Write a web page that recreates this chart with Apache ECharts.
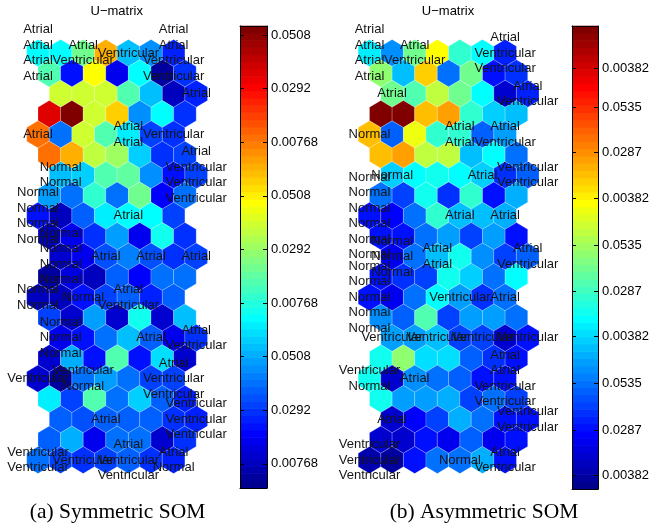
<!DOCTYPE html>
<html><head><meta charset="utf-8">
<script src="https://cdn.jsdelivr.net/npm/echarts@6/dist/echarts.min.js"></script>
<style>html,body{margin:0;padding:0;background:#fff}#c{width:652px;height:531px}</style>
</head><body><div id="c"></div>
<script>
// U-matrix values (colormap fraction 0..1), 21 rows x 7 columns
const symUmat = [
  [0.37,0.36,0.48,0.70,0.30,0.25,0.14],
  [0.45,0.12,0.62,0.10,0.36,0.01,0.16],
  [0.57,0.57,0.57,0.44,0.30,0.04,0.14],
  [0.90,1.00,0.57,0.67,0.25,0.36,0.16],
  [0.76,0.22,0.57,0.44,0.35,0.18,0.16],
  [0.76,0.70,0.55,0.53,0.31,0.16,0.18],
  [0.30,0.31,0.45,0.46,0.25,0.13,0.18],
  [0.27,0.23,0.42,0.23,0.48,0.11,0.22],
  [0.12,0.04,0.20,0.35,0.36,0.37,0.18],
  [0.04,0.09,0.16,0.27,0.10,0.38,0.16],
  [0.06,0.10,0.19,0.24,0.19,0.16,0.18],
  [0.02,0.08,0.04,0.20,0.11,0.22,0.22],
  [0.04,0.04,0.12,0.18,0.20,0.14,0.20],
  [0.18,0.06,0.27,0.06,0.38,0.07,0.30],
  [0.10,0.13,0.22,0.30,0.20,0.10,0.16],
  [0.06,0.28,0.12,0.45,0.12,0.34,0.07],
  [0.06,0.02,0.22,0.27,0.22,0.18,0.18],
  [0.35,0.18,0.45,0.22,0.32,0.20,0.14],
  [0.20,0.19,0.20,0.20,0.20,0.16,0.14],
  [0.20,0.28,0.10,0.22,0.22,0.06,0.16],
  [0.22,0.18,0.16,0.18,0.20,0.16,0.14]
];
const asymUmat = [
  [0.35,0.25,0.47,0.62,0.41,0.36,0.14],
  [0.50,0.30,0.67,0.23,0.47,0.12,0.16],
  [0.48,0.45,0.56,0.47,0.36,0.07,0.14],
  [1.00,1.00,0.68,0.72,0.41,0.32,0.30],
  [0.68,0.20,0.61,0.41,0.41,0.20,0.27],
  [0.68,0.72,0.55,0.56,0.30,0.37,0.22],
  [0.32,0.37,0.38,0.37,0.32,0.16,0.20],
  [0.22,0.18,0.38,0.16,0.42,0.12,0.28],
  [0.12,0.11,0.22,0.41,0.30,0.30,0.28],
  [0.12,0.12,0.22,0.27,0.18,0.27,0.12],
  [0.10,0.22,0.30,0.38,0.25,0.18,0.20],
  [0.12,0.16,0.18,0.38,0.31,0.23,0.37],
  [0.12,0.09,0.22,0.36,0.27,0.16,0.22],
  [0.25,0.20,0.44,0.18,0.27,0.27,0.22],
  [0.27,0.27,0.30,0.18,0.18,0.06,0.13],
  [0.38,0.50,0.34,0.34,0.20,0.16,0.12],
  [0.38,0.06,0.25,0.22,0.20,0.12,0.13],
  [0.38,0.27,0.27,0.29,0.18,0.22,0.18],
  [0.07,0.11,0.18,0.28,0.22,0.12,0.13],
  [0.06,0.06,0.12,0.09,0.20,0.10,0.12],
  [0.03,0.02,0.12,0.22,0.22,0.28,0.12]
];
// Labels on map units: [mapRow, mapCol, labels]
const A = 'Atrial', N = 'Normal', V = 'Ventricular';
const symLabels = [
  [0,0,[A,A,A,A]], [0,1,[A,V]], [0,2,[V]], [0,3,[A,A,V,V]],
  [1,3,[A]],
  [2,0,[A]], [2,2,[A,A]], [2,3,[V]],
  [3,0,[N,N]], [3,3,[A,V,V,V]],
  [4,0,[N,N,N,N]], [4,2,[A]],
  [5,0,[N,N,N,N]], [5,1,[A]], [5,2,[A]], [5,3,[A]],
  [6,0,[N,N]], [6,1,[N]], [6,2,[A,V]],
  [7,0,[N,N,N]], [7,2,[A]], [7,3,[A,V]],
  [8,0,[V]], [8,1,[V,N]], [8,3,[A,V,V]],
  [9,1,[A]], [9,3,[V,V,V]],
  [10,0,[V,V]], [10,1,[V]], [10,2,[A,V,V]], [10,3,[A,N]]
];
const asymLabels = [
  [0,0,[A,A,A,A]], [0,1,[A,V]], [0,3,[A,V,V]],
  [1,0,[A]], [1,3,[A,V]],
  [2,0,[N]], [2,2,[A,A]], [2,3,[A,V]],
  [3,0,[N]], [3,2,[A]], [3,3,[V,V]],
  [4,0,[N,N,N,N,N,N]], [4,2,[A]], [4,3,[A]],
  [5,0,[N,N,N]], [5,1,[A,A]], [5,3,[A,V]],
  [6,0,[N,N,N,N,N]], [6,2,[V]], [6,3,[A]],
  [7,0,[V]], [7,1,[V]], [7,2,[V]], [7,3,[V]],
  [8,0,[V,N]], [8,1,[A]], [8,3,[A,A,V,V]],
  [9,0,[A]], [9,3,[V,V]],
  [10,0,[V,V,V]], [10,2,[N]], [10,3,[A,V]]
];
// Colorbar ticks (position on colormap 0..1) and their labels
const symTickPos = [0.9805,0.8645,0.7485,0.6325,0.5165,0.4004,0.2844,0.1684,0.0524];
const symTickLabels = ['0.0508','0.0292','0.00768','0.0508','0.0292','0.00768','0.0508','0.0292','0.00768'];
const asymTickPos = [0.9086,0.8244,0.7264,0.6279,0.527,0.4276,0.329,0.2283,0.1274,0.0302];
const asymTickLabels = ['0.00382','0.0535','0.0287','0.00382','0.0535','0.0287','0.00382','0.0535','0.0287','0.00382'];
const titles = ['U\u2212matrix','U\u2212matrix'];
const captions = ['(a) Symmetric SOM','(b) Asymmetric SOM'];

// MATLAB jet(64) colormap
function jet(k){
  const i = k + 1;
  let r, g, b;
  r = i <= 24 ? 0 : i <= 40 ? (i-24)/16 : i <= 56 ? 1 : 1-(i-56)/16;
  g = i <= 8 ? 0 : i <= 24 ? (i-8)/16 : i <= 40 ? 1 : i <= 56 ? 1-(i-40)/16 : 0;
  b = i <= 8 ? 0.5+i/16 : i <= 24 ? 1 : i <= 40 ? 1-(i-24)/16 : 0;
  const h = x => Math.round(Math.max(0,Math.min(1,x))*255);
  return 'rgb('+h(r)+','+h(g)+','+h(b)+')';
}
function colorOf(v){ return jet(Math.round(Math.max(0,Math.min(1,v))*63)); }
const ROW_SHIFT = [0, 0.5, 1, 0.5];
function cells(U){
  const out = [];
  U.forEach((row, r) => row.forEach((v, c) => out.push([c + ROW_SHIFT[r % 4], r, v])));
  return out;
}
function labelPts(L){ return L.map(([i, j]) => [2*j + ROW_SHIFT[(2*i) % 4], 2*i]); }
const BANDS = Array.from({length: 64}, (_, k) => [k]);

function hexRender(params, api){
  const p = api.coord([api.value(0), api.value(1)]);
  const sz = api.size([1, 1]);
  const h = sz[0]/2, s = sz[1]*2/3;
  return {type:'polygon', shape:{points:[
    [p[0], p[1]-s], [p[0]+h, p[1]-s/2], [p[0]+h, p[1]+s/2],
    [p[0], p[1]+s], [p[0]-h, p[1]+s/2], [p[0]-h, p[1]-s/2]]},
    style:{fill: colorOf(api.value(2)), stroke:'rgba(255,255,255,0.35)', lineWidth:0.6}};
}
function labelRender(L){
  return function(params, api){
    const p = api.coord([api.value(0), api.value(1)]);
    return {type:'text', style:{text: L[params.dataIndex][2].join('\n'), x:p[0], y:p[1],
      align:'center', verticalAlign:'middle', fontSize:13, fontFamily:'Liberation Sans',
      lineHeight:15.5, fill:'#151515'}};
  };
}
function bandRender(params, api){
  const k = api.value(0);
  const a = api.coord([0, k/64]), b = api.coord([1, (k+1)/64]);
  return {type:'rect', shape:{x:a[0], y:b[1]-0.3, width:b[0]-a[0], height:a[1]-b[1]+0.6},
    style:{fill: jet(k)}};
}
function fmt(pos, labels){
  return v => { const i = pos.findIndex(p => Math.abs(p - v) < 1e-6); return i >= 0 ? labels[i] : ''; };
}
const black = {color:'#000', width:1};
function cbX(g, position){
  return {gridIndex:g, type:'value', min:0, max:1, position, z:10,
    axisLine:{show:true, onZero:false, lineStyle:black}, axisTick:{show:false},
    axisLabel:{show:false}, splitLine:{show:false}};
}
function cbY(g, position, pos, labels){
  return {gridIndex:g, type:'value', min:0, max:1, position, z:10,
    axisLine:{show:true, onZero:false, lineStyle:black},
    axisTick:{show:true, inside:true, length:4, customValues:pos, lineStyle:black},
    axisLabel: labels ? {show:true, customValues:pos, formatter:fmt(pos, labels), margin:4,
      fontSize:13, fontFamily:'Liberation Sans', color:'#000'} : {show:false},
    splitLine:{show:false}};
}
const mapX = g => ({gridIndex:g, type:'value', min:-1, max:8, show:false});
const mapY = g => ({gridIndex:g, type:'value', min:-1, max:21, inverse:true, show:false});
const titleStyle = {fontSize:13, fontWeight:'normal', fontFamily:'Liberation Sans', color:'#000'};
const capStyle = {fontSize:21.5, fontWeight:'normal', fontFamily:'Liberation Serif', color:'#000'};

const chart = echarts.init(document.getElementById('c'), null, {renderer:'canvas'});
chart.setOption({
  animation:false,
  backgroundColor:'#fff',
  title:[
    {text:titles[0], left:116.7, top:5, textAlign:'center', padding:0, textStyle:titleStyle},
    {text:titles[1], left:448, top:5, textAlign:'center', padding:0, textStyle:titleStyle},
    {text:captions[0], left:117.5, top:501, textAlign:'center', padding:0, textStyle:capStyle},
    {text:captions[1], left:484, top:501, textAlign:'center', padding:0, textStyle:capStyle}
  ],
  grid:[
    {left:15.4, top:32.65, width:203.4, height:447.7},
    {left:346.9, top:32.65, width:203.4, height:447.7},
    {left:240, top:26, width:27, height:462},
    {left:572, top:26, width:26, height:463}
  ],
  xAxis:[mapX(0), mapX(1), cbX(2,'bottom'), cbX(2,'top'), cbX(3,'bottom'), cbX(3,'top')],
  yAxis:[mapY(0), mapY(1),
    cbY(2,'right',symTickPos,symTickLabels), cbY(2,'left',symTickPos,null),
    cbY(3,'right',asymTickPos,asymTickLabels), cbY(3,'left',asymTickPos,null)],
  series:[
    {type:'custom', xAxisIndex:0, yAxisIndex:0, renderItem:hexRender, data:cells(symUmat), z:2},
    {type:'custom', xAxisIndex:1, yAxisIndex:1, renderItem:hexRender, data:cells(asymUmat), z:2},
    {type:'custom', xAxisIndex:0, yAxisIndex:0, renderItem:labelRender(symLabels), data:labelPts(symLabels), z:5},
    {type:'custom', xAxisIndex:1, yAxisIndex:1, renderItem:labelRender(asymLabels), data:labelPts(asymLabels), z:5},
    {type:'custom', xAxisIndex:2, yAxisIndex:2, renderItem:bandRender, data:BANDS, z:2},
    {type:'custom', xAxisIndex:4, yAxisIndex:4, renderItem:bandRender, data:BANDS, z:2}
  ]
});
</script></body></html>
